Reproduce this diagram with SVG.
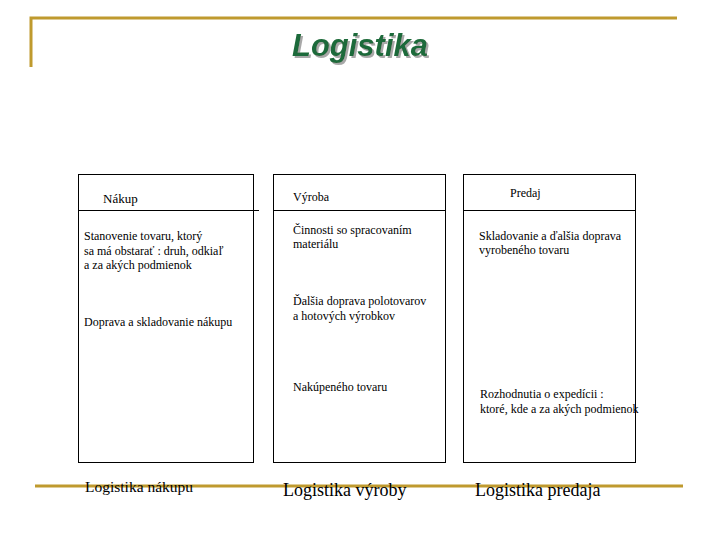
<svg xmlns="http://www.w3.org/2000/svg" width="720" height="540" viewBox="0 0 720 540">
<defs>
<filter id="shadow" x="-10%" y="-20%" width="130%" height="150%">
<feDropShadow dx="2" dy="2" stdDeviation="0.6" flood-color="#A8A8A8" flood-opacity="1"/>
</filter>
</defs>
<style>
.gold{stroke:#BF9A2E;stroke-width:3;fill:none}
.box{fill:none;stroke:#000;stroke-width:1}
.t{font-family:"Liberation Serif","Times New Roman",serif;font-size:12px;fill:#000}
.h{font-family:"Liberation Serif","Times New Roman",serif;font-size:13px;fill:#000}
.f{font-family:"Liberation Serif","Times New Roman",serif;font-size:18px;fill:#000}
.title{font-family:"Liberation Sans",Arial,sans-serif;font-size:31px;font-weight:bold;font-style:italic;fill:#1E6B3A}
</style>
<rect width="720" height="540" fill="#fff"/>
<g id="frame">
<polyline class="gold" points="31,67 31,18 677,18"/>
<line class="gold" x1="35" y1="486" x2="683" y2="486"/>
</g>
<g id="title">
<text class="title" x="360" y="56" text-anchor="middle" filter="url(#shadow)">Logistika</text>
</g>
<g id="nakup">
<rect class="box" x="78.5" y="174.5" width="175" height="288"/>
<line class="box" x1="78.5" y1="210.5" x2="259" y2="210.5"/>
<text class="h" x="103" y="203">Nákup</text>
<text class="t" x="84" y="240">Stanovenie tovaru, ktorý</text>
<text class="t" x="84" y="254.5">sa má obstarať : druh, odkiaľ</text>
<text class="t" x="84" y="269">a za akých podmienok</text>
<text class="t" x="84" y="326">Doprava a skladovanie nákupu</text>
</g>
<g id="vyroba">
<rect class="box" x="273.5" y="174.5" width="172" height="288"/>
<line class="box" x1="273.5" y1="210.5" x2="445.5" y2="210.5"/>
<text class="t" x="293" y="201">Výroba</text>
<text class="t" x="293" y="234">Činnosti so spracovaním</text>
<text class="t" x="293" y="248">materiálu</text>
<text class="t" x="293" y="305">Ďalšia doprava polotovarov</text>
<text class="t" x="293" y="320">a hotových výrobkov</text>
<text class="t" x="293" y="391">Nakúpeného tovaru</text>
</g>
<g id="predaj">
<rect class="box" x="463.5" y="174.5" width="172" height="288"/>
<line class="box" x1="463.5" y1="210.5" x2="635.5" y2="210.5"/>
<text class="t" x="510" y="197">Predaj</text>
<text class="t" x="479" y="240">Skladovanie a ďalšia doprava</text>
<text class="t" x="479" y="254">vyrobeného tovaru</text>
<text class="t" x="480" y="398">Rozhodnutia o expedícii :</text>
<text class="t" x="480" y="413">ktoré, kde a za akých podmienok</text>
</g>
<g id="footer">
<text class="h" x="85" y="492" style="font-size:15.5px">Logistika nákupu</text>
<text class="f" x="283" y="496">Logistika výroby</text>
<text class="f" x="475" y="496">Logistika predaja</text>
</g>
</svg>
